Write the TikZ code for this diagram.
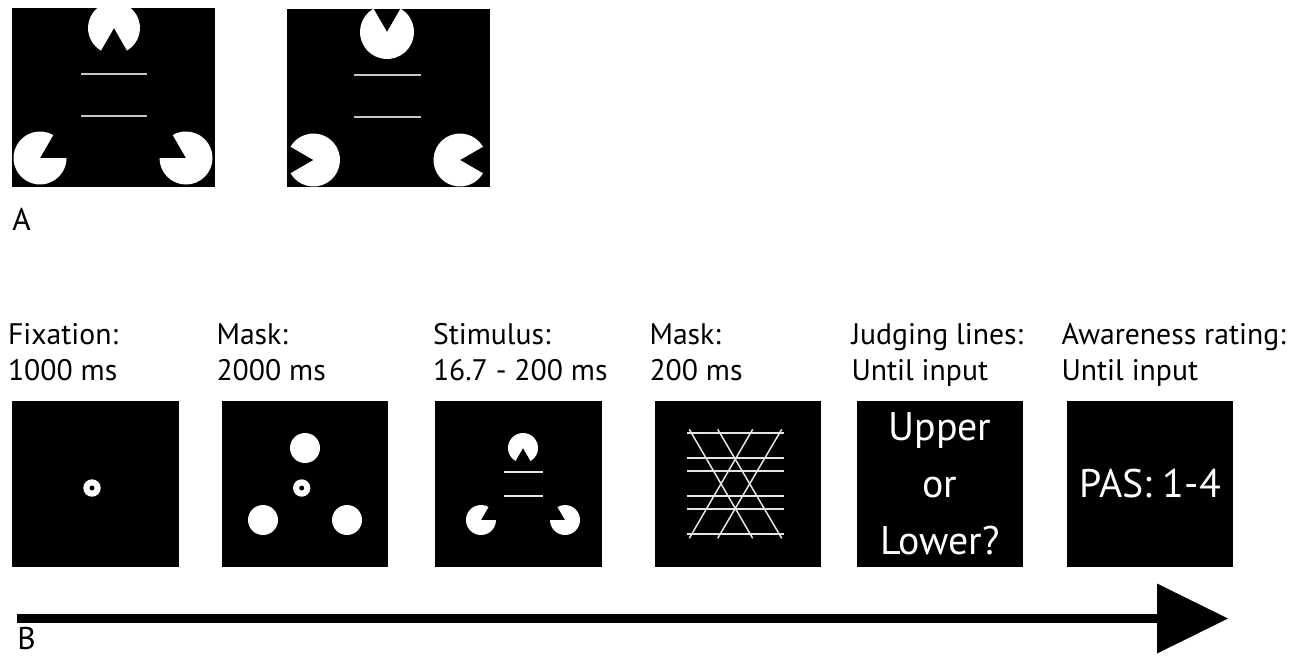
\documentclass[tikz,border=0pt]{standalone}
\usepackage{fontspec}
\setmainfont{PT Sans}
\usetikzlibrary{positioning,arrows.meta}

\begin{document}
\begin{tikzpicture}[x=0.02cm,y=0.02cm]
\tikzstyle{screen} = [fill=black, inner sep=0pt, minimum width=3.34cm, minimum height=3.32cm]
\tikzstyle{big screen} = [fill=black, inner sep=0pt, minimum width=4.06cm, minimum height=3.58cm]
\tikzstyle{stage} = [inner sep=0pt, align=left, text depth=0pt, font=\fontsize{16.9}{20.4}\selectfont]
\tikzstyle{screen text} = [text=white, align=center, inner sep=0pt, font=\fontsize{22.7}{32.3}\selectfont]
\tikzstyle{part} = [inner sep=0pt, anchor=base west, font=\fontsize{17.9}{20.4}\selectfont]
\tikzstyle{bar} = [draw=gray!45, line width=0.045cm]
\tikzstyle{thin bar} = [draw=gray!20, line width=0.03cm]
\tikzstyle{timeline} = [line width=0.17cm, -{Triangle[length=1.42cm, width=1.4cm, line width=0pt]}]
\useasboundingbox (0,0) rectangle (1302,-657);

\node [big screen] (kan) at (113.5,-97.5) {};
\node [big screen] (ctl) at (388.5,-98) {};
\node [part] (A) at (12,-230) {A};

\begin{scope}
\clip (kan.north west) rectangle (kan.south east);
\foreach \cx/\cy/\r/\dir in {114/-28/26/270, 40/-158/26.5/30, 186/-158/26.5/150}
  \fill [white] (\cx,\cy) -- ++({\dir+30}:\r) arc [start angle=\dir+30, end angle=\dir+330, radius=\r] -- cycle;
\end{scope}
\draw [bar] (81,-74) -- (147,-74);
\draw [bar] (81,-116) -- (147,-116);

\begin{scope}
\clip (ctl.north west) rectangle (ctl.south east);
\foreach \cx/\cy/\r/\dir in {387/-32/27/90, 313.5/-160/26.5/180, 460/-160/26.5/0}
  \fill [white] (\cx,\cy) -- ++({\dir+30}:\r) arc [start angle=\dir+30, end angle=\dir+330, radius=\r] -- cycle;
\end{scope}
\draw [bar] (354,-75) -- (421,-75);
\draw [bar] (354,-117) -- (421,-117);

\node [screen] (fix) at (95.5,-484) {};
\node [screen] (mask1) at (305,-484) {};
\node [screen] (stim) at (518.5,-484) {};
\node [screen] (mask2) at (738,-484) {};
\node [screen] (judge) at (940,-484) {};
\node [screen] (pas) at (1150,-484) {};

\node [stage, above right=0.4cm and -0.08cm of fix.north west] (fixL) {Fixation:\\1000 ms};
\node [stage, above right=0.4cm and -0.1cm of mask1.north west] (mask1L) {Mask:\\2000 ms};
\node [stage, above right=0.4cm and -0.04cm of stim.north west] (stimL) {Stimulus:\\16.7 - 200 ms};
\node [stage, above right=0.4cm and -0.1cm of mask2.north west] (mask2L) {Mask:\\200 ms};
\node [stage, above right=0.4cm and -0.1cm of judge.north west] (judgeL) {Judging lines:\\Until input};
\node [stage, above right=0.4cm and -0.1cm of pas.north west] (pasL) {Awareness rating:\\Until input};

% fixation point
\foreach \cx in {92, 301.7} {
  \fill [white] (\cx,-488) circle [radius=8.7];
  \fill [black] (\cx,-488) circle [radius=2.5];
}
\foreach \cx/\cy in {305/-448, 263/-520, 347/-520}
  \fill [white] (\cx,\cy) circle [radius=15];

% stimulus
\foreach \cx/\cy/\dir in {523/-448/270, 481/-520/30, 565/-520/150}
  \fill [white] (\cx,\cy) -- ++({\dir+30}:15) arc [start angle=\dir+30, end angle=\dir+330, radius=15] -- cycle;
\draw [thin bar] (504,-472) -- (543,-472);
\draw [thin bar] (504,-496) -- (543,-496);

% mask
\foreach \ly in {433, 458, 471, 496, 509, 534}
  \draw [thin bar] (686.7,-\ly) -- (784.3,-\ly);
\foreach \xa/\xb in {689.3/752.7, 717.7/781.7, 752.7/689.3, 781.7/717.7}
  \draw [thin bar] (\xa,-429.3) -- (\xb,-538.3);

\node [screen text] (judgeT) at (judge.center) {Upper\\or\\Lower?};
\node [screen text] (pasT) at (pas.center) {PAS: 1-4};

\coordinate (t0) at (17,-618.5);
\coordinate (t1) at (1228,-618.5);
\draw [timeline] (t0) -- (t1);
\node [part] (B) at (17,-649) {B};

\end{tikzpicture}
\end{document}
